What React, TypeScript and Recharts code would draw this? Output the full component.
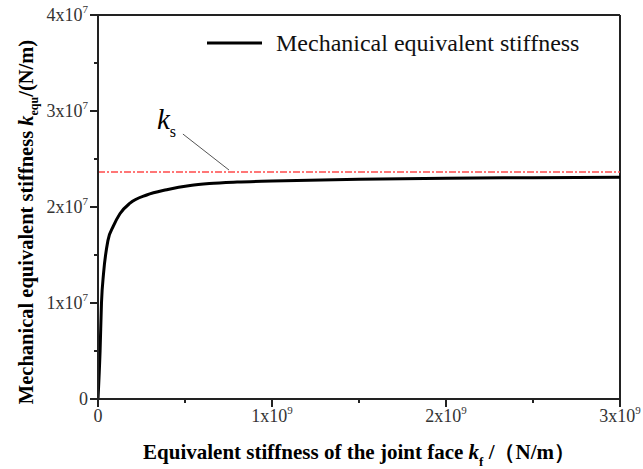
import React from 'react';
import { LineChart, Line, XAxis, YAxis, ReferenceLine, ReferenceDot, Legend } from 'recharts';

// Equivalent stiffness of the joint face k_f (N/m)
const kfValues = [0, 1.2e7, 2.0e7, 3.2e7, 5.7e7, 8.8e7, 1.26e8, 1.84e8, 2.8e8, 3.95e8, 5.3e8, 6.4e8, 8e8, 1e9, 1.5e9, 2e9, 2.5e9, 3e9];
// Mechanical equivalent stiffness k_equ (N/m)
const kequValues = [0, 5.0e6, 1.0e7, 1.31e7, 1.65e7, 1.8e7, 1.93e7, 2.04e7, 2.125e7, 2.18e7, 2.225e7, 2.245e7, 2.26e7, 2.27e7, 2.29e7, 2.3e7, 2.305e7, 2.31e7];
// Spring stiffness k_s (asymptote)
const ksValue = 2.365e7;

const xTicks = [0, 5e8, 1e9, 1.5e9, 2e9, 2.5e9, 3e9];
const yTicks = [0, 5e6, 1e7, 1.5e7, 2e7, 2.5e7, 3e7, 3.5e7, 4e7];

const seriesName = 'Mechanical equivalent stiffness';
const ksLeaderStart = { kf: 4.88e8, value: 2.76e7 };
const ksLeaderEnd = { kf: 7.53e8, value: 2.385e7 };

const data = kfValues.map((kf, i) => ({ kf, kequ: kequValues[i] }));

const SERIF = '"Liberation Serif", "Times New Roman", "DejaVu Serif", serif';
const INK = '#222';

const sci = (v: number, exp: number) => {
  if (v === 0) return <tspan>0</tspan>;
  const m = Math.round(v / Math.pow(10, exp));
  return (
    <>
      <tspan>{`${m}x10`}</tspan>
      <tspan dy={-8} fontSize={11}>{exp}</tspan>
    </>
  );
};

const XTick = (props: any) => {
  const { x, y, payload } = props;
  const v = payload.value;
  const major = v % 1e9 === 0;
  return (
    <g>
      <line x1={x} x2={x} y1={y} y2={y + (major ? 8 : 4)} stroke={INK} strokeWidth={2} />
      {major && (
        <text x={x} y={y + 23} textAnchor="middle" fontFamily={SERIF} fontSize={18} fill="#333">
          {sci(v, 9)}
        </text>
      )}
    </g>
  );
};

const YTick = (props: any) => {
  const { x, y, payload } = props;
  const v = payload.value;
  const major = v % 1e7 === 0;
  return (
    <g>
      <line x1={x} x2={x - (major ? 8 : 4)} y1={y} y2={y} stroke={INK} strokeWidth={2} />
      {major && (
        <text x={x - 10} y={y + 6} textAnchor="end" fontFamily={SERIF} fontSize={18} fill="#333">
          {sci(v, 7)}
        </text>
      )}
    </g>
  );
};

const XTitle = (props: any) => {
  const vb = props.viewBox;
  const cx = vb.x + vb.width / 2;
  const y = vb.y + 60;
  return (
    <text x={cx} y={y} textAnchor="middle" fontFamily={SERIF} fontWeight="bold" fontSize={21} fill="#000">
      <tspan>{'Equivalent stiffness of the joint face '}</tspan>
      <tspan fontStyle="italic">k</tspan>
      <tspan fontSize={13} dy={7}>f</tspan>
      <tspan dy={-7}>{' /（N/m）'}</tspan>
    </text>
  );
};

const YTitle = (props: any) => {
  const vb = props.viewBox;
  const cx = 33;
  const cy = vb.y + vb.height / 2 + 15;
  return (
    <text
      x={cx}
      y={cy}
      transform={`rotate(-90 ${cx} ${cy})`}
      textAnchor="middle"
      fontFamily={SERIF}
      fontWeight="bold"
      fontSize={20.5}
      fill="#000"
    >
      <tspan>{'Mechanical equivalent stiffness '}</tspan>
      <tspan fontStyle="italic">k</tspan>
      <tspan fontSize={12} dy={5}>equ</tspan>
      <tspan dy={-5}>{'/(N/m)'}</tspan>
    </text>
  );
};

const KsLabel = (props: any) => {
  const vb = props.viewBox;
  const x = vb.x;
  const y = vb.y;
  return (
    <text x={x - 26} y={y - 5} fontFamily={SERIF} fill="#000">
      <tspan fontStyle="italic" fontSize={29}>k</tspan>
      <tspan fontSize={16} dy={8}>s</tspan>
    </text>
  );
};

const LegendContent = () => (
  <svg width={420} height={30} style={{ display: 'block' }}>
    <line x1={7} x2={62} y1={15} y2={15} stroke="#000" strokeWidth={3} />
    <text x={76} y={23} fontFamily={SERIF} fontSize={24} fill="#111">{seriesName}</text>
  </svg>
);

export default function App() {
  return (
    <div style={{ position: 'absolute', left: 0, top: 0, width: 643, height: 469, background: '#fff' }}>
      <LineChart
        width={643}
        height={469}
        data={data}
        margin={{ top: 15, right: 23, bottom: 40, left: 38 }}
      >
        <XAxis
          dataKey="kf"
          type="number"
          domain={[0, 3e9]}
          ticks={xTicks}
          height={30}
          tickSize={0}
          tickMargin={0}
          tickLine={false}
          axisLine={{ stroke: INK, strokeWidth: 2 }}
          tick={<XTick />}
          interval={0}
          allowDataOverflow
          label={{ content: <XTitle /> }}
        />
        <YAxis
          type="number"
          domain={[0, 4e7]}
          ticks={yTicks}
          width={60}
          tickSize={0}
          tickMargin={0}
          tickLine={false}
          axisLine={{ stroke: INK, strokeWidth: 2 }}
          tick={<YTick />}
          interval={0}
          allowDataOverflow
          label={{ content: <YTitle /> }}
        />
        <ReferenceLine y={4e7} stroke={INK} strokeWidth={2} />
        <ReferenceLine x={3e9} stroke={INK} strokeWidth={2} />
        <ReferenceLine y={ksValue} stroke="#ff4a4a" strokeWidth={1.5} strokeDasharray="7 2 2 2" />
        <ReferenceLine
          segment={[
            { x: ksLeaderStart.kf, y: ksLeaderStart.value },
            { x: ksLeaderEnd.kf, y: ksLeaderEnd.value },
          ]}
          stroke="#555"
          strokeWidth={1}
        />
        <ReferenceDot
          x={ksLeaderStart.kf}
          y={ksLeaderStart.value}
          r={0}
          fill="none"
          stroke="none"
          label={{ content: <KsLabel /> }}
        />
        <Legend
          layout="horizontal"
          verticalAlign="middle"
          align="center"
          content={<LegendContent />}
          wrapperStyle={{ top: 28, left: 200, width: 420, height: 30 }}
        />
        <Line
          type="monotone"
          dataKey="kequ"
          name={seriesName}
          stroke="#000"
          strokeWidth={3}
          dot={false}
          isAnimationActive={false}
        />
      </LineChart>
    </div>
  );
}
